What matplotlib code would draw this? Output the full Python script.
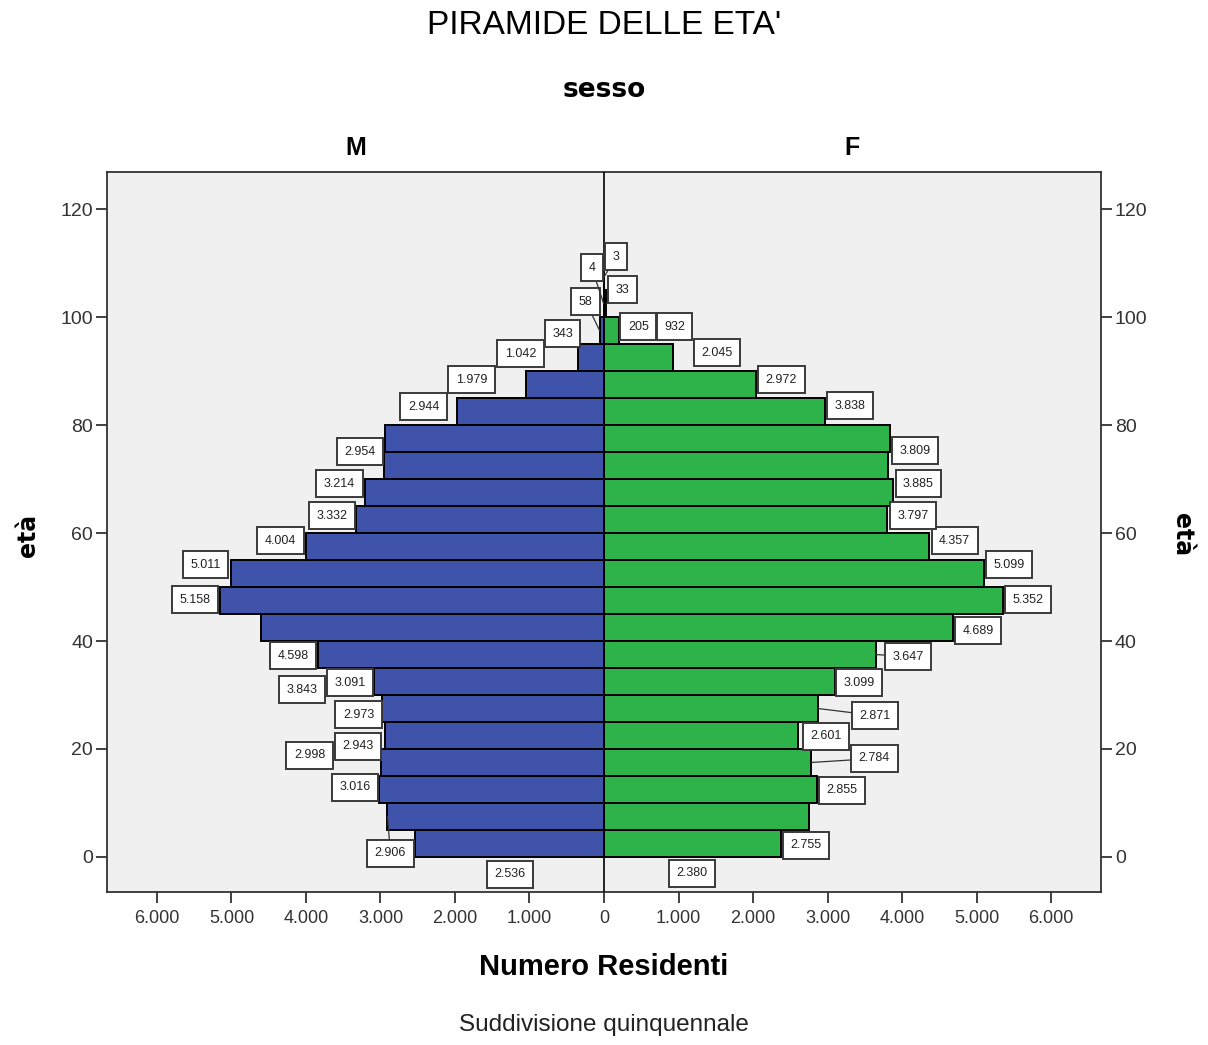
import numpy as np
import matplotlib.pyplot as plt
from matplotlib.ticker import FuncFormatter

# age classes (5-year bins, lower bound)
male_ages = list(range(0, 105, 5))
female_ages = list(range(0, 110, 5))

male = [2536, 2906, 3016, 2998, 2943, 2973, 3091, 3843, 4598, 5158, 5011,
        4004, 3332, 3214, 2954, 2944, 1979, 1042, 343, 58, 4]
female = [2380, 2755, 2855, 2784, 2601, 2871, 3099, 3647, 4689, 5352, 5099,
          4357, 3797, 3885, 3809, 3838, 2972, 2045, 932, 205, 33, 3]

# label offsets from bar end, in pixels (dx right, dy down) - SPSS style placement
male_off = [(95, 31), (3, 37), (-24, -2), (-71, -7), (-27, 11), (-24, 6), (-24, 1),
            (-16, 35), (32, 28), (-25, -1), (-25, -9), (-25, -6), (-24, -4),
            (-25, -9), (-24, -14), (39, -32), (15, -32), (-6, -31), (-16, -24),
            (-14, -29), (-12, -36)]
female_off = [(-89, 30), (-3, 29), (25, 1), (63, -4), (28, 1), (57, 7), (24, 1),
              (32, 2), (25, 3), (25, -1), (25, -9), (26, -6), (26, -4), (25, -9),
              (27, -15), (-40, -33), (-44, -32), (-39, -32), (1, -31), (19, -4),
              (16, -14), (12, -20)]
male_lead = [1, 19, 20]
female_lead = [3, 5, 7, 20, 21]

BLUE = '#3E53A9'
GREEN = '#2DB34A'
SANS = ['Liberation Sans', 'DejaVu Sans']

def fmt_it(v):
    return f"{int(v):,}".replace(',', '.')

fig = plt.figure(figsize=(12.08, 10.45), dpi=100)
ax = fig.add_axes([0.0886, 0.1464, 0.8228, 0.689])
ax.set_facecolor('#F0F0F0')

ax.barh(male_ages, [-v for v in male], height=5, align='edge',
        color=BLUE, edgecolor='black', linewidth=1.4, zorder=2)
ax.barh(female_ages, female, height=5, align='edge',
        color=GREEN, edgecolor='black', linewidth=1.4, zorder=2)
ax.axvline(0, color='black', lw=1.2, zorder=3)

def put_labels(ages, vals, offs, leads, sign):
    for i, (a, v) in enumerate(zip(ages, vals)):
        dx, dy = offs[i]
        arrow = None
        if i in leads:
            arrow = dict(arrowstyle='-', color='#333333', lw=0.9,
                         shrinkA=0, shrinkB=0)
        ax.annotate(fmt_it(v), xy=(sign * v, a + 2.5), xytext=(dx, -dy),
                    textcoords='offset pixels', ha='center', va='center',
                    fontsize=9, family=SANS, color='#222222', zorder=5,
                    bbox=dict(boxstyle='square,pad=0.6', fc='white',
                              ec='#3a3a3a', lw=1.4),
                    arrowprops=arrow)

put_labels(male_ages, male, male_off, male_lead, -1)
put_labels(female_ages, female, female_off, female_lead, 1)

ax.set_xlim(-6670, 6670)
ax.set_ylim(-6.5, 126.9)
ax.set_xticks(np.arange(-6000, 6001, 1000))
ax.xaxis.set_major_formatter(FuncFormatter(lambda v, p: fmt_it(abs(v))))
ax.set_yticks(np.arange(0, 121, 20))
ax.tick_params(axis='both', direction='out', length=8, width=1.3,
               color='#333333', labelcolor='#333333')
ax.tick_params(axis='y', right=True, labelright=True, labelsize=14, pad=2)
ax.tick_params(axis='x', labelsize=13, pad=5)
for lab in ax.get_xticklabels() + ax.get_yticklabels():
    lab.set_family(SANS)
for s in ax.spines.values():
    s.set_color('#333333')
    s.set_linewidth(1.3)

# titles and axis labels
fig.text(0.5, 1 - 26 / 1045, "PIRAMIDE DELLE ETA'", ha='center', va='center',
         fontsize=24, family=SANS)
fig.text(0.5, 1 - 90 / 1045, 'sesso', ha='center', va='center',
         fontsize=19, fontweight='bold', family='DejaVu Sans')
fig.text(356 / 1208, 1 - 148 / 1045, 'M', ha='center', va='center',
         fontsize=18, fontweight='bold', family=SANS)
fig.text(852 / 1208, 1 - 148 / 1045, 'F', ha='center', va='center',
         fontsize=18, fontweight='bold', family=SANS)
fig.text(28 / 1208, 1 - 535 / 1045, 'età', ha='center', va='center',
         rotation=90, fontsize=17, fontweight='bold', family='DejaVu Sans')
fig.text(1182 / 1208, 1 - 535 / 1045, 'età', ha='center', va='center',
         rotation=-90, fontsize=17, fontweight='bold', family='DejaVu Sans')
fig.text(0.5, 1 - 967 / 1045, 'Numero Residenti', ha='center', va='center',
         fontsize=21, fontweight='bold', family=SANS)
fig.text(0.5, 1 - 1025 / 1045, 'Suddivisione quinquennale', ha='center',
         va='center', fontsize=17.5, family=SANS, color='#222222')

plt.savefig('out.png', dpi=100)
